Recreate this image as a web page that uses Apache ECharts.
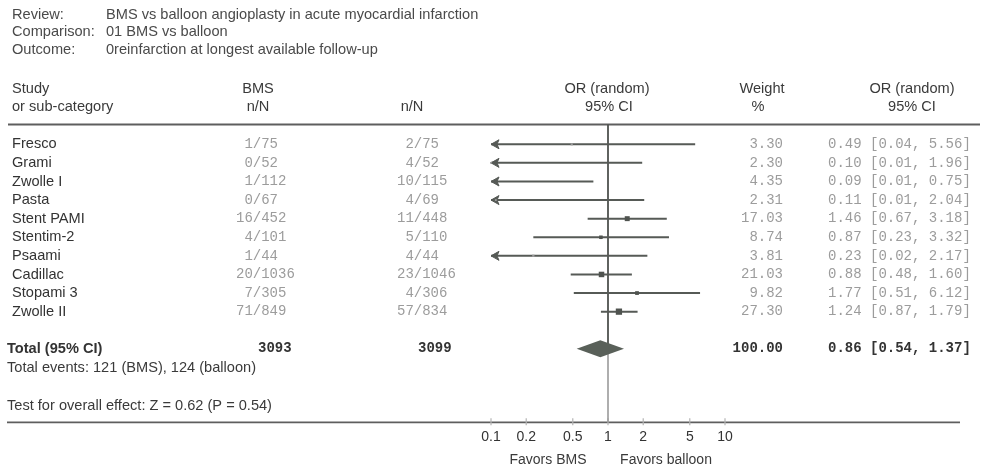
<!DOCTYPE html>
<html>
<head>
<meta charset="utf-8">
<script src="https://cdn.jsdelivr.net/npm/echarts@6/dist/echarts.min.js"></script>
<style>
  html, body { margin: 0; padding: 0; background: #ffffff; }
  #chart { width: 984px; height: 471px; }
</style>
</head>
<body>
<div id="chart"></div>
<script>
// ---- Meta-analysis data ----
const reviewLabels = ['Review:', 'Comparison:', 'Outcome:'];
const reviewValues = [
  'BMS vs balloon angioplasty in acute myocardial infarction',
  '01 BMS vs balloon',
  '0reinfarction at longest available follow-up'
];
const studyNames = ['Fresco', 'Grami', 'Zwolle I', 'Pasta', 'Stent PAMI', 'Stentim-2', 'Psaami', 'Cadillac', 'Stopami 3', 'Zwolle II'];
const bmsEvents = [1, 0, 1, 0, 16, 4, 1, 20, 7, 71];
const bmsTotals = [75, 52, 112, 67, 452, 101, 44, 1036, 305, 849];
const balloonEvents = [2, 4, 10, 4, 11, 5, 4, 23, 4, 57];
const balloonTotals = [75, 52, 115, 69, 448, 110, 44, 1046, 306, 834];
const oddsRatios = [0.49, 0.10, 0.09, 0.11, 1.46, 0.87, 0.23, 0.88, 1.77, 1.24];
const ciLower = [0.04, 0.01, 0.01, 0.01, 0.67, 0.23, 0.02, 0.48, 0.51, 0.87];
const ciUpper = [5.56, 1.96, 0.75, 2.04, 3.18, 3.32, 2.17, 1.60, 6.12, 1.79];
const weights = [3.30, 2.30, 4.35, 2.31, 17.03, 8.74, 3.81, 21.03, 9.82, 27.30];
const pooledOR = 0.86;
const pooledLower = 0.54;
const pooledUpper = 1.37;
const pooledWeight = 100.00;
const overallTest = 'Test for overall effect: Z = 0.62 (P = 0.54)';
const axisTicks = [0.1, 0.2, 0.5, 1, 2, 5, 10];
const favorsLabels = ['Favors BMS', 'Favors balloon'];

// ---- Layout helpers ----
const SANS = '"Liberation Sans", Arial, sans-serif';
const MONO = '"Liberation Mono", "DejaVu Sans Mono", monospace';
const SANS_SIZE = 14.6;
const MONO_SIZE = 14;
const PITCH = MONO_SIZE * 0.6;
const TOTAL_ROW = studyNames.length + 1;
const HEADER_RULE_ROW = -1.07;
const AXIS_ROW = 14.95;

const sum = a => a.reduce((s, v) => s + v, 0);
const fmtCI = (o, l, u) => `${o.toFixed(2)} [${l.toFixed(2)}, ${u.toFixed(2)}]`;

const cells = [];
function addText(x, row, text, opt) {
  cells.push(Object.assign({ x, row, text, align: 'left', font: SANS, size: SANS_SIZE, weight: 'normal', color: '#3a3a3a' }, opt || {}));
}
// place an "n/N" string so that its slash sits on a fixed column
function addFraction(slashX, row, text) {
  const idx = text.indexOf('/');
  addText(slashX - PITCH * (idx + 0.5), row, text, { font: MONO, size: MONO_SIZE, color: '#9c9c9c' });
}

// header block
reviewLabels.forEach((lab, k) => {
  const row = [-6.95, -6.03, -5.07][k];
  addText(12, row, lab, { color: '#4a4a4a' });
  addText(106, row, reviewValues[k], { color: '#4a4a4a' });
});
// column headings
addText(12, -3, 'Study');
addText(12, -2, 'or sub-category');
addText(258, -3, 'BMS', { align: 'center' });
addText(258, -2, 'n/N', { align: 'center' });
addText(412, -2, 'n/N', { align: 'center' });
addText(607, -3, 'OR (random)', { align: 'center' });
addText(609, -2, '95% CI', { align: 'center' });
addText(762, -3, 'Weight', { align: 'center' });
addText(758, -2, '%', { align: 'center' });
addText(912, -3, 'OR (random)', { align: 'center' });
addText(912, -2, '95% CI', { align: 'center' });

// study rows
studyNames.forEach((name, i) => {
  addText(12, i, name, { color: '#333333' });
  addFraction(257, i, `${bmsEvents[i]}/${bmsTotals[i]}`);
  addFraction(418, i, `${balloonEvents[i]}/${balloonTotals[i]}`);
  addText(783, i, weights[i].toFixed(2), { align: 'right', font: MONO, size: MONO_SIZE, color: '#9c9c9c' });
  addText(828, i, fmtCI(oddsRatios[i], ciLower[i], ciUpper[i]), { font: MONO, size: MONO_SIZE, color: '#9c9c9c' });
});

// pooled row
const boldMono = { font: MONO, size: MONO_SIZE, weight: 'bold', color: '#333333' };
addText(7, TOTAL_ROW, 'Total (95% CI)', { weight: 'bold', color: '#333333' });
addText(258, TOTAL_ROW, String(sum(bmsTotals)), boldMono);
addText(418, TOTAL_ROW, String(sum(balloonTotals)), boldMono);
addText(783, TOTAL_ROW, pooledWeight.toFixed(2), Object.assign({ align: 'right' }, boldMono));
addText(828, TOTAL_ROW, fmtCI(pooledOR, pooledLower, pooledUpper), boldMono);
addText(7, TOTAL_ROW + 1, `Total events: ${sum(bmsEvents)} (BMS), ${sum(balloonEvents)} (balloon)`);
addText(7, 14.07, overallTest);
addText(548, 17, favorsLabels[0], { align: 'center', size: 14 });
addText(666, 17, favorsLabels[1], { align: 'center', size: 14 });

// horizontal rules (in table coordinates)
const rules = [
  { x0: 8, x1: 980, row: HEADER_RULE_ROW, width: 2, color: '#5e5e5e' },
  { x0: 7, x1: 960, row: AXIS_ROW, width: 1.6, color: '#5e5e5e' }
];

// forest data: [or, lower, upper, weight, row]
const studyData = studyNames.map((_, i) => [oddsRatios[i], ciLower[i], ciUpper[i], weights[i], i]);
const X_MIN = axisTicks[0];
const X_MAX = axisTicks[axisTicks.length - 1];
const LINE = '#565a56';

function renderStudy(params, api) {
  const or = api.value(0), lo = api.value(1), hi = api.value(2), w = api.value(3), row = api.value(4);
  const p0 = api.coord([Math.max(lo, X_MIN), row]);
  const p1 = api.coord([Math.min(hi, X_MAX), row]);
  const pc = api.coord([or, row]);
  const children = [{
    type: 'line',
    shape: { x1: p0[0], y1: p0[1], x2: p1[0], y2: p1[1] },
    style: { stroke: LINE, lineWidth: 2 }
  }];
  if (lo < X_MIN) {
    const x = p0[0], y = p0[1];
    children.push({
      type: 'polygon',
      shape: { points: [[x, y], [x + 8, y - 4.5], [x + 6, y], [x + 8, y + 4.5]] },
      style: { fill: LINE, stroke: LINE, lineWidth: 1 }
    });
  }
  if (or >= X_MIN) {
    const s = 1.2 * Math.sqrt(w);
    children.push({
      type: 'rect',
      shape: { x: pc[0] - s / 2, y: pc[1] - s / 2, width: s, height: s },
      style: { fill: w < 5 ? '#9a9a9a' : '#4f534f' }
    });
  }
  return { type: 'group', children };
}

function renderPooled(params, api) {
  const row = api.value(3);
  const l = api.coord([api.value(1), row]);
  const c = api.coord([api.value(0), row]);
  const r = api.coord([api.value(2), row]);
  const h = 8.5;
  return {
    type: 'polygon',
    shape: { points: [[l[0], l[1]], [c[0], c[1] - h], [r[0], r[1]], [c[0], c[1] + h]] },
    style: { fill: '#596059' }
  };
}

function renderNoEffect(params, api) {
  const a = api.coord([api.value(0), api.value(1)]);
  const b = api.coord([api.value(0), api.value(2)]);
  const t = api.coord([api.value(0), TOTAL_ROW]);
  return {
    type: 'group',
    children: [
      { type: 'line', shape: { x1: a[0], y1: a[1], x2: t[0], y2: t[1] }, style: { stroke: '#4e524e', lineWidth: 1.8 } },
      { type: 'line', shape: { x1: t[0], y1: t[1], x2: b[0], y2: b[1] }, style: { stroke: '#9a9a9a', lineWidth: 1.6 } }
    ]
  };
}

// small tick marks crossing the axis rule at each labelled value
function renderTick(params, api) {
  const p = api.coord([api.value(0), AXIS_ROW]);
  return {
    type: 'line',
    shape: { x1: p[0], y1: p[1] - 4, x2: p[0], y2: p[1] + 3 },
    style: { stroke: '#b4b4b4', lineWidth: 1.2 }
  };
}

function renderCell(params, api) {
  const c = cells[params.dataIndex];
  const p = api.coord([c.x, c.row]);
  return {
    type: 'text',
    x: p[0], y: p[1],
    style: {
      text: c.text, x: 0, y: 0,
      align: c.align, verticalAlign: 'middle',
      fontFamily: c.font, fontSize: c.size, fontWeight: c.weight,
      fill: c.color
    }
  };
}

function renderRule(params, api) {
  const r = rules[params.dataIndex];
  const a = api.coord([r.x0, r.row]);
  const b = api.coord([r.x1, r.row]);
  return { type: 'line', shape: { x1: a[0], y1: a[1], x2: b[0], y2: b[1] }, style: { stroke: r.color, lineWidth: r.width } };
}

const chart = echarts.init(document.getElementById('chart'), null, { renderer: 'canvas' });
chart.setOption({
  animation: false,
  backgroundColor: '#ffffff',
  textStyle: { fontFamily: SANS },
  grid: [
    // forest plot area: log axis from 0.1 to 10
    { left: 491, width: 234, top: 4.8, height: 417.5, outerBoundsMode: 'none', containLabel: false },
    // table area spanning the whole canvas
    { left: 0, width: 984, top: 4.8, height: 465, outerBoundsMode: 'none', containLabel: false }
  ],
  xAxis: [
    {
      gridIndex: 0, type: 'log', logBase: 10, min: X_MIN, max: X_MAX, position: 'bottom',
      axisLine: { show: false, onZero: false },
      axisTick: { show: false },
      axisLabel: {
        show: true, customValues: axisTicks, margin: 8,
        color: '#333333', fontSize: 14, fontFamily: SANS,
        formatter: v => String(+(+v).toPrecision(3))
      },
      splitLine: { show: false }, minorTick: { show: false }
    },
    { gridIndex: 1, type: 'value', min: 0, max: 984, show: false }
  ],
  yAxis: [
    { gridIndex: 0, type: 'value', min: -7.5, max: AXIS_ROW, inverse: true, show: false },
    { gridIndex: 1, type: 'value', min: -7.5, max: 17.5, inverse: true, show: false }
  ],
  series: [
    {
      type: 'custom', name: 'rules', xAxisIndex: 1, yAxisIndex: 1,
      data: rules.map(r => [r.x0, r.row]), renderItem: renderRule, clip: false, silent: true
    },
    {
      type: 'custom', name: 'ticks', xAxisIndex: 0, yAxisIndex: 0,
      data: axisTicks.map(v => [v]), renderItem: renderTick, clip: false, silent: true
    },
    {
      type: 'custom', name: 'no effect', xAxisIndex: 0, yAxisIndex: 0,
      data: [[1, HEADER_RULE_ROW, AXIS_ROW]], renderItem: renderNoEffect, clip: false, silent: true
    },
    {
      type: 'custom', name: 'studies', xAxisIndex: 0, yAxisIndex: 0,
      data: studyData, renderItem: renderStudy, clip: false, silent: true
    },
    {
      type: 'custom', name: 'pooled', xAxisIndex: 0, yAxisIndex: 0,
      data: [[pooledOR, pooledLower, pooledUpper, TOTAL_ROW]], renderItem: renderPooled, clip: false, silent: true
    },
    {
      type: 'custom', name: 'table', xAxisIndex: 1, yAxisIndex: 1,
      data: cells.map(c => [c.x, c.row]), renderItem: renderCell, clip: false, silent: true
    }
  ]
});
</script>
</body>
</html>
